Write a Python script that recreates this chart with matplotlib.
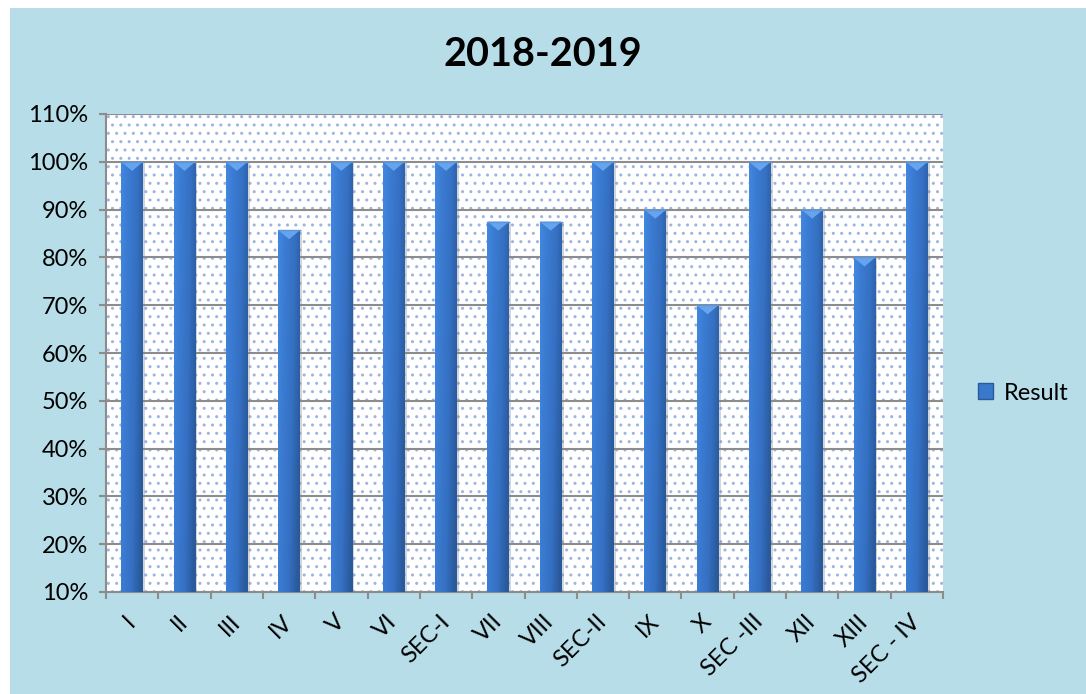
import numpy as np
import matplotlib.pyplot as plt
from matplotlib.patches import Rectangle, Polygon
from matplotlib.colors import LinearSegmentedColormap

plt.rcParams['font.family'] = ['Lato', 'DejaVu Sans']

# Data
classes = ['I', 'II', 'III', 'IV', 'V', 'VI', 'SEC-I', 'VII', 'VIII', 'SEC-II',
           'IX', 'X', 'SEC -III', 'XII', 'XIII', 'SEC - IV']
result = [100, 100, 100, 85.7, 100, 100, 100, 87.5, 87.5, 100,
          90, 70, 100, 90, 80, 100]
yticks = [10, 20, 30, 40, 50, 60, 70, 80, 90, 100, 110]

bg = '#b7dde8'
grid_col = '#8c8c8c'

fig = plt.figure(figsize=(10.86, 6.94), dpi=100, facecolor='white')
fig.patches.append(Rectangle((10 / 1086, 0), 1, 1 - 8 / 694, transform=fig.transFigure,
                             facecolor=bg, edgecolor='none', zorder=-10))

ax = fig.add_axes([106 / 1086, 1 - 592 / 694, (943 - 106) / 1086, (592 - 114) / 694])
ax.set_facecolor('white')

# dotted background
dots = Rectangle((0, 0), 1, 1, transform=ax.transAxes, facecolor='none',
                 edgecolor='#9db4e0', hatch='..', linewidth=0, zorder=0)
ax.add_patch(dots)

ax.set_yticks(yticks)
ax.set_yticklabels([f'{v}%' for v in yticks])
ax.yaxis.grid(True, color=grid_col, linewidth=1.5, zorder=1)
ax.set_axisbelow(True)

ax.set_xticks(range(len(classes)))
ax.set_xticklabels(classes, rotation=45, ha='right', va='center', rotation_mode='anchor')
ax.set_xticks(np.arange(-0.5, len(classes), 1), minor=True)
ax.tick_params(axis='x', which='major', length=0, pad=19, labelsize=17)
ax.tick_params(axis='x', which='minor', length=5, width=1.5, color=grid_col, direction='out')
ax.tick_params(axis='y', length=5, width=1.5, color=grid_col, pad=8, labelsize=17)

for s in ['top', 'right']:
    ax.spines[s].set_visible(False)
for s in ['left', 'bottom']:
    ax.spines[s].set_color(grid_col)
    ax.spines[s].set_linewidth(1.5)

# bar gradient: lighter left, darker right, darker near the bottom
cmap = LinearSegmentedColormap.from_list('bar', ['#4287e0', '#3a7ad0', '#3570c2', '#2a5a9c'])
gx = np.linspace(0, 1, 64)
gy = np.linspace(0, 1, 64)[:, None]
grad = np.clip(gx[None, :] * 0.85 + (1 - gy) * 0.25, 0, 1)

width = 0.415
tri_h = 1.9
for i, v in enumerate(result):
    x0 = i - width / 2
    shadow = Rectangle((x0 + 0.04, 10), width, v - 10, facecolor='#7f8a95', alpha=0.35,
                       edgecolor='none', zorder=2)
    ax.add_patch(shadow)
    rect = Rectangle((x0, 10), width, v - 10, facecolor='none', edgecolor='none', zorder=3)
    ax.add_patch(rect)
    im = ax.imshow(grad, cmap=cmap, extent=(x0, x0 + width, 10, v), origin='lower',
                   aspect='auto', zorder=3, interpolation='bilinear')
    im.set_clip_path(rect)
    tri = Polygon([(x0, v), (x0 + width, v), (i, v - tri_h)], closed=True,
                  facecolor='#66a5ee', edgecolor='none', zorder=4)
    ax.add_patch(tri)
    ax.plot([x0, x0 + width], [v, v], color='#5b95dd', linewidth=1, zorder=4)

ax.set_xlim(-0.5, len(classes) - 0.5)
ax.set_ylim(10, 110)

fig.text(0.5, 1 - 55 / 694, '2018-2019', ha='center', va='center', fontsize=28.5,
         fontweight='bold')

handle = Rectangle((0, 0), 1, 1, facecolor='#3a78cc', edgecolor='#2a5a9c')
leg = fig.legend([handle], ['Result'], loc='center left',
                 bbox_to_anchor=(978 / 1086, 1 - 393 / 694), frameon=False,
                 fontsize=17, handlelength=0.65, handleheight=0.65, handletextpad=0.45,
                 borderpad=0, borderaxespad=0)

plt.savefig('out.png', dpi=100, facecolor=fig.get_facecolor())
